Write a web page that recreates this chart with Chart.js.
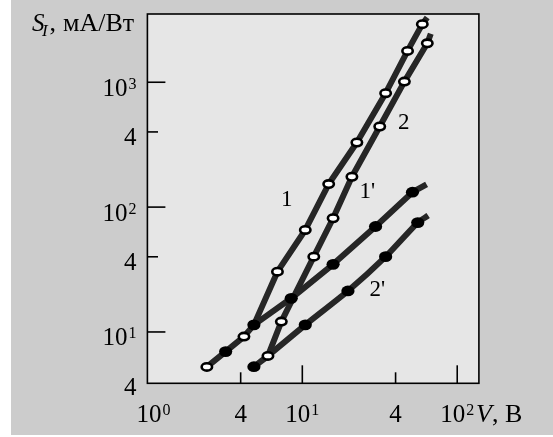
<!DOCTYPE html>
<html>
<head>
<meta charset="utf-8">
<script src="https://cdn.jsdelivr.net/npm/chart.js@4.4.1/dist/chart.umd.min.js"></script>
<style>
  html, body { margin: 0; padding: 0; background: #fff; }
  #wrap { width: 553px; height: 437px; }
</style>
</head>
<body>
<div id="wrap"><canvas id="chart" width="553" height="437"></canvas></div>
<script>
// Данные кривых (V, В  ->  S_I, мА/Вт), сняты с графика
// метки: 'o' - светлый кружок, 'f' - тёмный, '' - без метки
const curve1X = [2.42, 3.20, 4.20, 4.87, 6.91, 10.45, 14.8, 22.5, 34.5, 47.8, 59.5, 64.0];
const curve1Y = [5.25, 6.96, 9.18, 11.4, 30.4, 65.6, 153, 329, 817, 1783, 2918, 3300];
const curve1M = ['o', 'f', 'o', 'f', 'o', 'o', 'o', 'o', 'o', 'o', 'o', ''];

const curve1pX = [4.87, 8.48, 15.8, 29.7, 51.4, 63.4];
const curve1pY = [11.4, 18.6, 34.8, 69.9, 131.6, 152];
const curve1pM = ['', 'f', 'f', 'f', 'f', ''];

const curve2X = [6.0, 7.32, 11.86, 15.8, 20.9, 31.6, 45.6, 64.1, 67.5];
const curve2Y = [6.43, 12.1, 40.1, 81.4, 175, 442, 1012, 2051, 2450];
const curve2M = ['o', 'o', 'o', 'o', 'o', 'o', 'o', 'o', ''];

const curve2pX = [4.87, 6.0, 10.45, 19.7, 34.5, 55.6, 64.9];
const curve2pY = [5.27, 6.43, 11.4, 21.3, 40.1, 75.2, 85.5];
const curve2pM = ['f', '', 'f', 'f', 'f', 'f', ''];

// подписи кривых и их привязка в координатах данных
const curveNames = ['1', "1'", '2', "2'"];
const curveNameX = [7.92, 26.3, 45.1, 30.5];
const curveNameY = [114, 132, 470, 21.7];

// деления осей
const xTickVals = [1, 4, 10, 40, 100];
const xTickBase = ['10', '4', '10', '4', '10'];
const xTickExp  = ['0', '', '1', '', '2'];
const yTickVals = [4, 10, 40, 100, 400, 1000];
const yTickBase = ['4', '10', '4', '10', '4', '10'];
const yTickExp  = ['', '1', '', '2', '', '3'];

const SERIF = '"Liberation Serif", "Times New Roman", serif';
const LINE = '#262626';

const toPts = (xs, ys) => xs.map((x, i) => ({ x: x, y: ys[i] }));
const marks = [curve1M, curve1pM, curve2M, curve2pM];

// рисует "10" + верхний индекс
function drawPow(ctx, base, exp, x, y, align) {
  ctx.font = '25px ' + SERIF;
  const wb = ctx.measureText(base).width;
  ctx.font = '16px ' + SERIF;
  const we = exp ? ctx.measureText(exp).width + 1 : 0;
  const w = wb + we;
  let left = x;
  if (align === 'center') left = x - w / 2;
  if (align === 'right') left = x - w;
  ctx.textAlign = 'left';
  ctx.textBaseline = 'alphabetic';
  ctx.font = '25px ' + SERIF;
  ctx.fillText(base, left, y);
  if (exp) {
    ctx.font = '16px ' + SERIF;
    ctx.fillText(exp, left + wb + 1, y - 7);
  }
  return left + w;
}

const decor = {
  id: 'decor',
  beforeDraw(chart) {
    const { ctx, chartArea: a } = chart;
    ctx.save();
    ctx.fillStyle = '#ffffff';
    ctx.fillRect(0, 0, chart.width, chart.height);
    ctx.fillStyle = '#cccccc';
    ctx.fillRect(11, 0, chart.width - 11, 435);
    ctx.fillStyle = '#e6e6e6';
    ctx.fillRect(a.left, a.top, a.width, a.height);
    ctx.restore();
  },
  afterDatasetsDraw(chart) {
    const { ctx, chartArea: a } = chart;
    const xs = chart.scales.x, ys = chart.scales.y;
    ctx.save();

    // маркеры
    chart.data.datasets.forEach((ds, i) => {
      const meta = chart.getDatasetMeta(i);
      meta.data.forEach((pt, j) => {
        const m = marks[i][j];
        if (!m) return;
        ctx.beginPath();
        if (m === 'f') {
          ctx.ellipse(pt.x, pt.y, 6.6, 5.4, 0, 0, Math.PI * 2);
          ctx.fillStyle = '#000';
          ctx.fill();
        } else {
          ctx.ellipse(pt.x, pt.y, 5.2, 3.7, 0, 0, Math.PI * 2);
          ctx.fillStyle = '#fff';
          ctx.fill();
          ctx.lineWidth = 2.6;
          ctx.strokeStyle = '#000';
          ctx.stroke();
        }
      });
    });

    // рамка
    ctx.lineWidth = 1.6;
    ctx.strokeStyle = '#000';
    ctx.strokeRect(a.left, a.top, a.width, a.height);

    // деления внутрь
    xTickVals.forEach((v, i) => {
      if (v <= xs.min) return;
      const px = xs.getPixelForValue(v);
      const len = xTickExp[i] ? 18 : 11;
      ctx.beginPath();
      ctx.moveTo(px, a.bottom);
      ctx.lineTo(px, a.bottom - len);
      ctx.stroke();
    });
    yTickVals.forEach((v, i) => {
      if (v <= ys.min * 1.05) return;
      const py = ys.getPixelForValue(v);
      const len = yTickExp[i] ? 18 : 10.6;
      ctx.beginPath();
      ctx.moveTo(a.left, py);
      ctx.lineTo(a.left + len, py);
      ctx.stroke();
    });

    // подписи делений
    ctx.fillStyle = '#000';
    xTickVals.forEach((v, i) => {
      let px = xs.getPixelForValue(v);
      if (i === 0) px += 6;
      drawPow(ctx, xTickBase[i], xTickExp[i], px, 421.5, 'center');
    });
    yTickVals.forEach((v, i) => {
      const py = ys.getPixelForValue(v);
      drawPow(ctx, yTickBase[i], yTickExp[i], a.left - 11, py + 13.5, 'right');
    });

    // подпись оси X: V, В
    ctx.textAlign = 'left';
    ctx.textBaseline = 'alphabetic';
    let xx = 476;
    ctx.font = 'italic 26px ' + SERIF;
    ctx.fillText('V', xx, 421.5);
    xx += ctx.measureText('V').width;
    ctx.font = '26px ' + SERIF;
    ctx.fillText(', B', xx, 421.5);

    // подпись оси Y: S_I, мА/Вт
    ctx.font = 'italic 25px ' + SERIF;
    ctx.fillText('S', 32, 30.5);
    ctx.font = 'italic 17px ' + SERIF;
    ctx.fillText('I', 42, 36);
    ctx.font = '26px ' + SERIF;
    ctx.fillText(',', 49.5, 30.5);
    ctx.fillText('мА/Вт', 63, 30.5);

    // номера кривых
    ctx.font = '23px ' + SERIF;
    ctx.textAlign = 'center';
    ctx.textBaseline = 'middle';
    curveNames.forEach((n, i) => {
      ctx.fillText(n, xs.getPixelForValue(curveNameX[i]), ys.getPixelForValue(curveNameY[i]));
    });

    ctx.restore();
  }
};

const lineStyle = {
  showLine: true,
  borderColor: LINE,
  borderWidth: 6,
  borderCapStyle: 'butt',
  borderJoinStyle: 'round',
  pointRadius: 0,
  pointHoverRadius: 0,
  tension: 0
};

new Chart(document.getElementById('chart'), {
  type: 'scatter',
  data: {
    datasets: [
      Object.assign({ label: '1', data: toPts(curve1X, curve1Y) }, lineStyle),
      Object.assign({ label: "1'", data: toPts(curve1pX, curve1pY) }, lineStyle),
      Object.assign({ label: '2', data: toPts(curve2X, curve2Y) }, lineStyle),
      Object.assign({ label: "2'", data: toPts(curve2pX, curve2pY) }, lineStyle, { tension: 0.2 })
    ]
  },
  options: {
    responsive: false,
    devicePixelRatio: 1,
    animation: false,
    layout: { padding: { left: 147.4, top: 14, right: 74.1, bottom: 53.7 } },
    scales: {
      x: { type: 'logarithmic', min: 1, max: 138, display: false },
      y: { type: 'logarithmic', min: 3.88, max: 3520, display: false }
    },
    plugins: {
      legend: { display: false },
      tooltip: { enabled: false }
    }
  },
  plugins: [decor]
});
</script>
</body>
</html>
